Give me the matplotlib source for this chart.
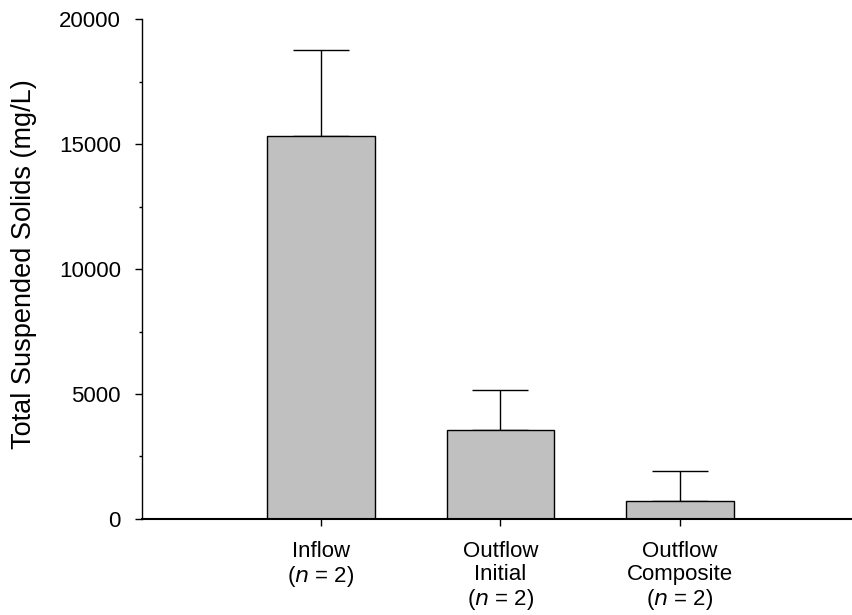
import numpy as np
import matplotlib.pyplot as plt
from matplotlib.ticker import MultipleLocator

plt.rcParams['font.family'] = ['Liberation Sans', 'DejaVu Sans']

# dados
categorias = ['Inflow\n($\\it{n}$ = 2)', 'Outflow\nInitial\n($\\it{n}$ = 2)', 'Outflow\nComposite\n($\\it{n}$ = 2)']
tss = [15320, 3560, 720]
erro = [3440, 1600, 1200]

fig = plt.figure(figsize=(8.52, 6.15), dpi=100)
ax = fig.add_axes([0.1663, 0.1561, 0.8337, 0.8130])

x = np.arange(len(tss))
ax.bar(x, tss, width=0.6, color='#c0c0c0', edgecolor='black', linewidth=1.0, zorder=2)
ax.errorbar(x, tss, yerr=[np.zeros(len(erro)), erro], fmt='none', ecolor='black',
            elinewidth=1.0, capsize=20.5, capthick=1.0, zorder=1)

ax.set_xlim(-1.0, 2.96)
ax.set_ylim(0, 20000)
ax.yaxis.set_major_locator(MultipleLocator(5000))
ax.yaxis.set_minor_locator(MultipleLocator(2500))
ax.set_xticks(x)
ax.set_xticklabels(categorias, fontsize=16, linespacing=1.1)

ax.spines['top'].set_visible(False)
ax.spines['right'].set_visible(False)
ax.spines['left'].set_linewidth(1.0)
ax.spines['bottom'].set_linewidth(1.5)
ax.tick_params(axis='y', which='major', length=5, width=1.0, labelsize=16, pad=10)
ax.tick_params(axis='y', which='minor', length=2.5, width=1.0)
ax.tick_params(axis='x', length=5, width=1.0, pad=11)

ax.set_ylabel('Total Suspended Solids (mg/L)', fontsize=19.5)
ax.yaxis.set_label_coords(-0.148, 0.51)

fig.savefig('out.png', dpi=100)
